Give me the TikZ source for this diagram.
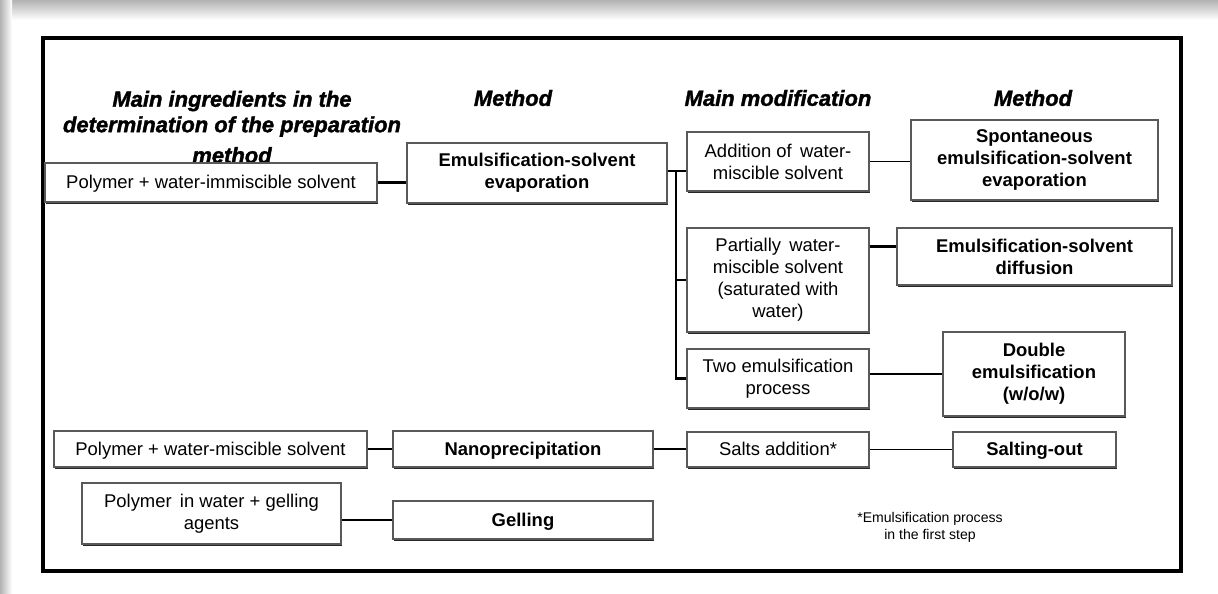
\documentclass[tikz,border=0pt]{standalone}
\usepackage{fontspec}
\setmainfont{Liberation Sans}
\newfontfamily\hdfont[FakeBold=1.6]{Liberation Sans Bold Italic}
\usetikzlibrary{shadows}
\newlength\pxu
\setlength\pxu{0.02cm}

\begin{document}
\begin{tikzpicture}[x=0.02cm, y=-0.02cm,
   box/.style={draw=black!65, line width=0.7pt, fill=white, align=center, inner sep=1pt,
     font=\fontsize{10.5}{12.6}\selectfont,
     general shadow={fill=black!85, shadow xshift=0.4pt, shadow yshift=-1.2pt}},
   mbox/.style={box, font=\fontsize{10.5}{12.6}\selectfont\bfseries},
   oneline/.style={text height=7.5pt, text depth=0.6pt},
   head/.style={font=\fontsize{12.5}{14.5}\selectfont\hdfont, align=center},
   thk/.style={line width=1.7pt},
   thn/.style={line width=1pt}]
   \useasboundingbox (0,0) rectangle (1218,594);
   \shade[top color=black!30, bottom color=white] (0,0) rectangle (1218,20);
   \shade[left color=black!30, right color=white] (0,0) rectangle (12,594);
   \draw[line width=2.3pt] (43,38) rectangle (1181,571);
   \node[head] (hing) at (232,127) {Main ingredients in the\\determination of the preparation\\[3pt]method};
   \node[head] (hmeth) at (513,98) {Method};
   \node[head] (hmod) at (778,98) {Main modification};
   \node[head] (hmeth2) at (1033,98) {Method};
   \node[box, oneline, minimum width=332\pxu, minimum height=39\pxu] (pimm) at (211,182.5) {Polymer + water-immiscible solvent};
   \node[mbox, minimum width=260\pxu, minimum height=60\pxu] (emev) at (537,173) {Emulsification-solvent\\evaporation};
   \node[box, minimum width=182\pxu, minimum height=59\pxu] (addw) at (778,161.5) {Addition of\, water-\\miscible solvent};
   \node[mbox, minimum width=247\pxu, minimum height=80\pxu] (spon) at (1034.5,160) {Spontaneous\\emulsification-solvent\\evaporation};
   \node[box, minimum width=182\pxu, minimum height=104\pxu] (part) at (778,280) {Partially\, water-\\miscible solvent\\(saturated with\\water)};
   \node[mbox, minimum width=275\pxu, minimum height=57\pxu] (emdf) at (1034.5,256.5) {Emulsification-solvent\\diffusion};
   \node[box, minimum width=182\pxu, minimum height=59\pxu] (twoe) at (778,378.5) {Two emulsification\\process};
   \node[mbox, minimum width=182\pxu, minimum height=84\pxu] (dble) at (1034,374) {Double\\emulsification\\(w/o/w)};
   \node[box, oneline, minimum width=313\pxu, minimum height=36\pxu] (pmis) at (210.5,449) {Polymer + water-miscible solvent};
   \node[mbox, oneline, minimum width=260\pxu, minimum height=36\pxu] (nano) at (523,449) {Nanoprecipitation};
   \node[box, oneline, minimum width=182\pxu, minimum height=35\pxu] (salt) at (778,449.5) {Salts addition*};
   \node[mbox, oneline, minimum width=163\pxu, minimum height=35\pxu] (sout) at (1034.5,449.5) {Salting-out};
   \node[box, minimum width=259\pxu, minimum height=61\pxu] (pgel) at (211.5,513.5) {Polymer\, in water + gelling\\agents};
   \node[mbox, oneline, minimum width=260\pxu, minimum height=38\pxu] (gell) at (523,520) {Gelling};
   \node[font=\fontsize{8}{9.7}\selectfont, align=center] (fnote) at (930,527) {*Emulsification process\\in the first step};
   \coordinate (bus) at (676,171);
   \draw[thk] (pimm.east) -- (pimm.east -| emev.west);
   \draw[thk] (emev.east |- bus) -- (bus -| addw.west);
   \draw[thk] (bus) |- (twoe.west);
   \draw[thk] (bus |- part.west) -- (part.west);
   \draw[thn] (addw.east) -- (addw.east -| spon.west);
   \draw[thk] (emdf.176 -| part.east) -- (emdf.176);
   \draw[thk] (twoe.east |- dble.west) -- (dble.west);
   \draw[thk] (pmis.east) -- (pmis.east -| nano.west);
   \draw[thn] (nano.east) -- (nano.east -| salt.west);
   \draw[thn] (salt.east) -- (salt.east -| sout.west);
   \draw[thk] (pgel.east |- gell.west) -- (gell.west);
\end{tikzpicture}
\end{document}
